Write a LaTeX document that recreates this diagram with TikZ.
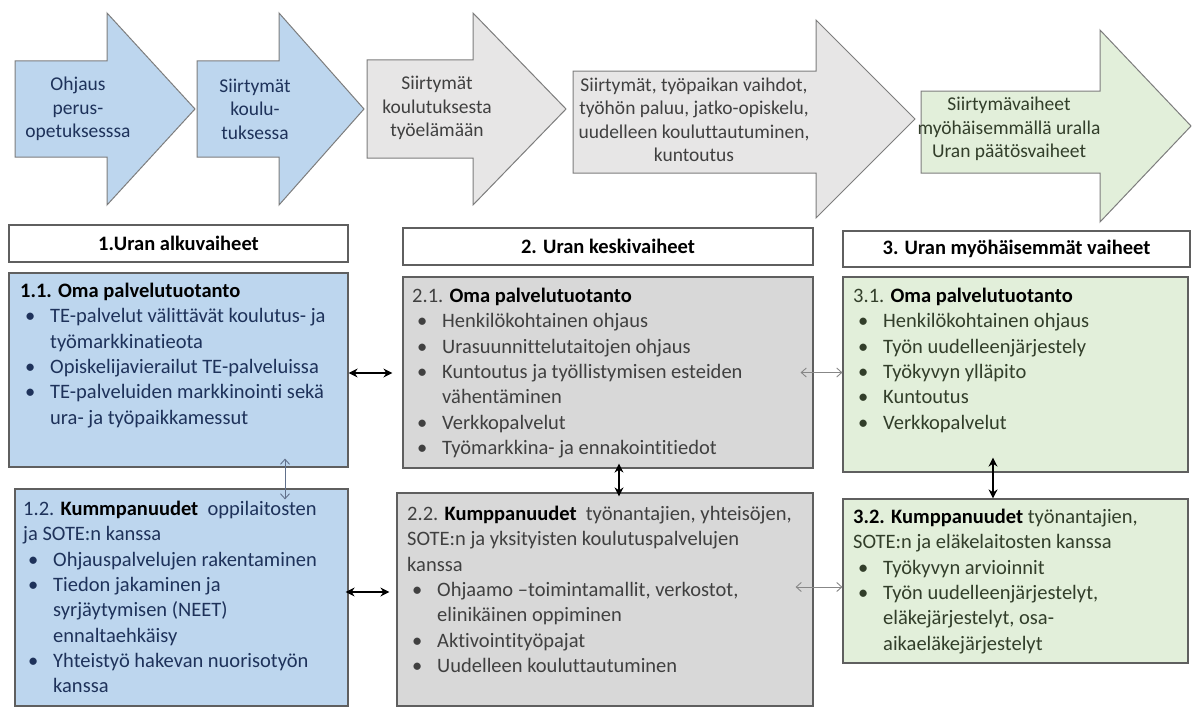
\documentclass[tikz,border=0pt]{standalone}
\usepackage{fontspec}
\setmainfont{Carlito}[Ligatures=NoCommon]
\usetikzlibrary{arrows.meta,positioning,calc}
\definecolor{BlueFill}{RGB}{189,214,238}
\definecolor{GrayFill}{RGB}{231,230,230}
\definecolor{GreenFill}{RGB}{226,239,218}
\definecolor{BoxGray}{RGB}{216,216,216}
\definecolor{EdgeGray}{RGB}{125,125,125}
\definecolor{BoxEdge}{RGB}{95,95,95}
\definecolor{NavyText}{RGB}{30,50,90}
\definecolor{DarkText}{RGB}{64,64,64}
\definecolor{GreenText}{RGB}{50,62,42}
\definecolor{PairGray}{RGB}{135,135,135}
\newcommand{\blt}{\hspace*{5pt}\makebox[25pt][l]{\textbullet}}
\newcommand{\ind}{\hspace*{30pt}}
\tikzset{
  stageblue/.style={draw=EdgeGray,fill=BlueFill,line width=1pt},
  stagegray/.style={draw=EdgeGray,fill=GrayFill,line width=1pt},
  stagegreen/.style={draw=EdgeGray,fill=GreenFill,line width=1pt},
  stagetext/.style={align=center,inner sep=0pt,font=\fontsize{19.5}{23.5}\selectfont},
  phase/.style={draw=BoxEdge,fill=white,line width=1.2pt,inner sep=0pt,font=\bfseries\fontsize{20.5}{25}\selectfont},
  panel/.style={draw=BoxEdge,line width=1.2pt,inner sep=0pt},
  boxtext/.style={anchor=north west,align=left,inner sep=0pt,font=\fontsize{20.5}{25.3}\selectfont},
  link/.style={<->,>={Stealth[length=9pt,width=9pt]},line width=2.2pt,draw=black},
  softlink/.style={<->,>={Straight Barb[length=5pt,width=9pt]},line width=0.9pt,draw=PairGray}
}
\begin{document}
\begin{tikzpicture}[x=1pt,y=-1pt]
\useasboundingbox (0,0) rectangle (1193,709);

% stage arrows
\draw[stageblue] (15,61) -- (107,61) -- (107,13) -- (195,109) -- (107,205) -- (107,157) -- (15,157) -- cycle;
\draw[stageblue] (197,61) -- (279,61) -- (279,13) -- (364,109) -- (279,205) -- (279,157) -- (197,157) -- cycle;
\draw[stagegray] (367,60) -- (473,60) -- (473,13) -- (566,109) -- (473,205) -- (473,158) -- (367,158) -- cycle;
\draw[stagegray] (573,71) -- (816,71) -- (816,20) -- (915,119) -- (816,218) -- (816,173) -- (573,173) -- cycle;
\draw[stagegreen] (921,91) -- (1100,91) -- (1100,30) -- (1191,126) -- (1100,222) -- (1100,173) -- (921,173) -- cycle;

\node[stagetext,text=NavyText] (s1) at (78,109) {Ohjaus\\perus-\\opetuksesssa};
\node[stagetext,text=NavyText] (s2) at (255,109) {Siirtymät\\koulu-\\tuksessa};
\node[stagetext,text=DarkText] (s3) at (437,108) {Siirtymät\\koulutuksesta\\työelämään};
\node[stagetext,text=DarkText] (s4) at (694,120) {Siirtymät, työpaikan vaihdot,\\työhön paluu, jatko-opiskelu,\\uudelleen kouluttautuminen,\\kuntoutus};
\node[stagetext,text=GreenText] (s5) at (1009,129) {Siirtymävaiheet\\myöhäisemmällä uralla\\Uran päätösvaiheet};

% phase headers
\node[phase,minimum width=339pt,minimum height=37pt] (h1) at (178.5,243.5) {1.Uran alkuvaiheet};
\node[phase,minimum width=410pt,minimum height=37pt] (h2) at (608,246.5) {2. Uran keskivaiheet};
\node[phase,minimum width=347pt,minimum height=36pt] (h3) at (1016.5,249) {3. Uran myöhäisemmät vaiheet};

% panels
\node[panel,fill=BlueFill,minimum width=339pt,minimum height=194pt] (b11) at (178.5,370) {};
\node[panel,fill=BoxGray,minimum width=410pt,minimum height=191pt] (b21) at (608,372.5) {};
\node[panel,fill=GreenFill,minimum width=345pt,minimum height=195pt] (b31) at (1015.5,374.5) {};
\node[panel,fill=BlueFill,minimum width=333pt,minimum height=217pt] (b12) at (181.5,597.5) {};
\node[panel,fill=BoxGray,minimum width=416pt,minimum height=213pt] (b22) at (605,599.5) {};
\node[panel,fill=GreenFill,minimum width=345pt,minimum height=164pt] (b32) at (1015.5,581) {};

\node[boxtext,text=NavyText] (t11) at (20,283) {\textcolor{black}{\textbf{1.1. Oma palvelutuotanto}}\\
\blt TE-palvelut välittävät koulutus- ja\\
\ind työmarkkinatieota\\
\blt Opiskelijavierailut TE-palveluissa\\
\blt TE-palveluiden markkinointi sekä\\
\ind ura- ja työpaikkamessut};
\node[boxtext,text=DarkText] (t21) at (412,288) {2.1. \textcolor{black}{\textbf{Oma palvelutuotanto}}\\
\blt Henkilökohtainen ohjaus\\
\blt Urasuunnittelutaitojen ohjaus\\
\blt Kuntoutus ja työllistymisen esteiden\\
\ind vähentäminen\\
\blt Verkkopalvelut\\
\blt Työmarkkina- ja ennakointitiedot};
\node[boxtext,text=GreenText] (t31) at (853,288) {3.1. \textcolor{black}{\textbf{Oma palvelutuotanto}}\\
\blt Henkilökohtainen ohjaus\\
\blt Työn uudelleenjärjestely\\
\blt Työkyvyn ylläpito\\
\blt Kuntoutus\\
\blt Verkkopalvelut};
\node[boxtext,text=NavyText] (t12) at (23,501) {1.2. \textcolor{black}{\textbf{Kummpanuudet}} \ oppilaitosten\\
ja SOTE:n kanssa\\
\blt Ohjauspalvelujen rakentaminen\\
\blt Tiedon jakaminen ja\\
\ind syrjäytymisen (NEET)\\
\ind ennaltaehkäisy\\
\blt Yhteistyö hakevan nuorisotyön\\
\ind kanssa};
\node[boxtext,text=DarkText] (t22) at (407,506) {2.2. \textcolor{black}{\textbf{Kumppanuudet}} \ työnantajien, yhteisöjen,\\
SOTE:n ja yksityisten koulutuspalvelujen\\
kanssa\\
\blt Ohjaamo –toimintamallit, verkostot,\\
\ind elinikäinen oppiminen\\
\blt Aktivointityöpajat\\
\blt Uudelleen kouluttautuminen};
\node[boxtext,text=GreenText] (t32) at (853,509) {\textcolor{black}{\textbf{3.2. Kumppanuudet}} työnantajien,\\
SOTE:n ja eläkelaitosten kanssa\\
\blt Työkyvyn arvioinnit\\
\blt Työn uudelleenjärjestelyt,\\
\ind eläkejärjestelyt, osa-\\
\ind aikaeläkejärjestelyt};

% links between panels
\draw[link,shorten >=10pt] ([yshift=-3pt]b11.east) -- ([yshift=-3pt]b11.east -| b21.west);
\draw[link,shorten >=7pt] ([xshift=-3pt,yshift=5.5pt]b12.east) -- ([yshift=5.5pt]b12.east -| b22.west);
\draw[softlink] ([xshift=-13pt]b21.east) -- (b21.east -| b31.west);
\draw[softlink] ([xshift=-18pt,yshift=12.5pt]b22.east) -- ([yshift=12.5pt]b22.east -| b32.west);
\draw[softlink,draw=NavyText!70] ([xshift=106.5pt,yshift=9pt]b11.south) -- ([xshift=106.5pt,yshift=-11pt]b12.north -| b11.south);
\draw[link] ([xshift=11pt,yshift=5pt]b21.south) -- ([xshift=11pt,yshift=-4pt]b22.north -| b21.south);
\draw[link] ([xshift=-22.5pt,yshift=15pt]b31.south) -- ([xshift=-22.5pt]b32.north -| b31.south);
\end{tikzpicture}
\end{document}
